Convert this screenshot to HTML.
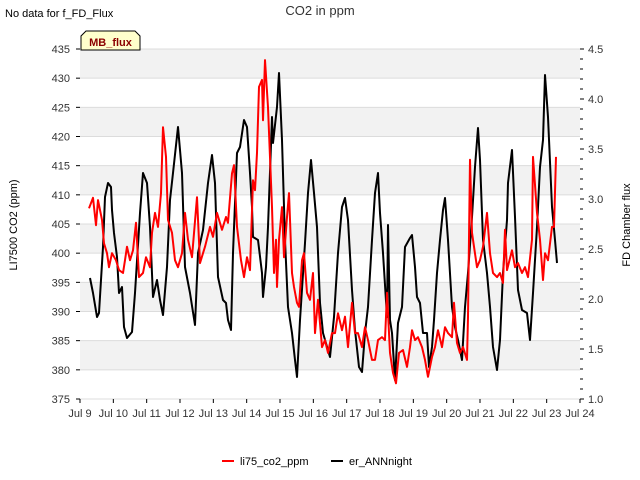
<!DOCTYPE html>
<html><head><meta charset="utf-8"><style>
html,body{margin:0;padding:0;background:#fff;}
svg{display:block;font-family:"Liberation Sans",sans-serif;}
</style></head><body>
<svg id="chart" width="640" height="480" viewBox="0 0 640 480">
<text x="5" y="17" font-size="11" fill="#000">No data for f_FD_Flux</text>
<text x="320" y="15" font-size="13" fill="#333" text-anchor="middle">CO2 in ppm</text>
<g id="plot"></g>
<g>
<path d="M81,50 L81,36 L86,31 L135,31 L140,36 L140,50 Z" fill="#ffffcc" stroke="#000" stroke-width="1"/>
<text x="110.5" y="46" font-size="11" font-weight="bold" fill="#8b0000" text-anchor="middle">MB_flux</text>
</g>
<text transform="translate(17,225) rotate(-90)" font-size="11" text-anchor="middle" fill="#000">LI7500 CO2 (ppm)</text>
<text transform="translate(630,225) rotate(-90)" font-size="11" text-anchor="middle" fill="#000">FD Chamber flux</text>
<g>
<g><line x1="222" y1="461" x2="234" y2="461" stroke="#ff0000" stroke-width="2"/><text x="240" y="465" font-size="11">li75_co2_ppm</text></g>
<g><line x1="331" y1="461" x2="343" y2="461" stroke="#000" stroke-width="2"/><text x="349" y="465" font-size="11">er_ANNnight</text></g>
</g>
</svg>
<script>
const xTickLabels=["Jul 9","Jul 10","Jul 11","Jul 12","Jul 13","Jul 14","Jul 15","Jul 16","Jul 17","Jul 18","Jul 19","Jul 20","Jul 21","Jul 22","Jul 23","Jul 24"];
const leftTicks=[375,380,385,390,395,400,405,410,415,420,425,430,435];
const rightTicks=[1.0,1.5,2.0,2.5,3.0,3.5,4.0,4.5];
const redT=[.27,.39,.48,.54,.66,.72,.81,.87,.96,1.08,1.17,1.29,1.35,1.41,1.50,1.59,1.68,1.77,1.89,1.98,2.10,2.16,2.25,2.34,2.43,2.49,2.58,2.64,2.76,2.85,2.94,3.06,3.15,3.24,3.36,3.51,3.60,3.75,3.90,3.99,4.11,4.26,4.38,4.44,4.56,4.62,4.71,4.83,4.92,5.01,5.10,5.19,5.25,5.31,5.37,5.46,5.49,5.55,5.64,5.76,5.82,5.88,5.91,5.97,6.06,6.12,6.21,6.27,6.36,6.42,6.51,6.57,6.66,6.72,6.81,6.90,6.99,7.05,7.14,7.26,7.35,7.44,7.56,7.65,7.74,7.86,7.95,8.04,8.16,8.25,8.34,8.46,8.55,8.64,8.76,8.85,8.94,9.06,9.15,9.21,9.30,9.39,9.48,9.57,9.69,9.81,9.90,9.96,10.05,10.14,10.26,10.35,10.44,10.56,10.65,10.74,10.86,10.95,11.04,11.16,11.22,11.31,11.40,11.49,11.61,11.64,11.70,11.76,11.82,11.91,12.00,12.09,12.21,12.30,12.39,12.51,12.60,12.69,12.75,12.81,12.96,13.05,13.14,13.26,13.35,13.44,13.56,13.59,13.71,13.80,13.89,13.95,14.04,14.16,14.22,14.28];
const redV=[407.7,409.5,404.8,409.1,405.7,401.7,400.0,397.6,400.0,398.8,397.1,396.6,398.8,401.1,398.8,400.5,405.2,395.9,396.6,399.3,397.6,403.5,406.9,404.5,410.3,421.6,416.5,405.7,403.5,398.8,397.6,400.0,406.9,402.3,399.3,409.6,398.3,401.1,404.5,402.8,406.9,404.0,406.2,405.2,413.7,415.1,404.5,398.8,395.9,399.3,397.1,412.5,410.8,417.2,428.5,429.7,422.8,433.1,425.0,407.9,396.6,402.3,394.2,402.3,407.9,399.3,406.2,410.3,396.6,394.2,391.5,390.8,398.8,400.0,393.2,392.0,396.6,386.3,392.0,383.9,385.1,382.9,386.3,386.3,389.7,386.8,389.1,383.9,391.5,386.3,386.3,383.9,387.3,385.1,381.7,381.7,385.1,385.6,385.1,393.2,382.9,379.5,377.7,382.9,383.4,380.5,383.9,386.8,385.1,385.6,383.9,381.7,378.8,382.2,383.9,386.8,383.9,387.3,386.3,385.6,391.5,384.6,382.9,383.9,381.7,389.1,416.0,403.5,401.1,397.6,398.8,401.1,406.9,400.0,396.6,395.9,396.6,394.9,404.0,397.1,400.5,397.6,398.3,396.6,397.6,395.9,402.3,416.5,406.9,402.3,395.4,400.0,398.8,404.5,404.5,416.5];
const blackT=[.30,.39,.51,.57,.69,.75,.84,.93,.96,1.02,1.11,1.17,1.26,1.32,1.41,1.56,1.65,1.80,1.89,2.01,2.10,2.19,2.31,2.40,2.49,2.61,2.70,2.79,2.94,3.06,3.15,3.30,3.45,3.54,3.69,3.84,3.96,4.05,4.14,4.29,4.38,4.44,4.53,4.59,4.71,4.80,4.92,5.01,5.10,5.16,5.19,5.34,5.46,5.49,5.58,5.64,5.76,5.79,5.91,5.97,6.06,6.15,6.24,6.36,6.45,6.51,6.60,6.75,6.84,6.93,7.02,7.11,7.20,7.29,7.50,7.62,7.74,7.86,7.95,8.04,8.16,8.25,8.37,8.46,8.55,8.64,8.76,8.85,8.94,9.00,9.09,9.21,9.24,9.30,9.36,9.45,9.54,9.66,9.75,9.90,9.96,10.05,10.11,10.20,10.29,10.41,10.47,10.56,10.62,10.71,10.80,10.89,10.95,11.04,11.16,11.25,11.34,11.46,11.55,11.64,11.76,11.85,11.94,12.00,12.09,12.21,12.30,12.39,12.51,12.60,12.69,12.81,12.84,12.96,13.05,13.14,13.26,13.41,13.50,13.59,13.71,13.80,13.89,13.95,14.04,14.16,14.25,14.31];
const blackV=[2.21,2.06,1.82,1.86,2.52,3.02,3.16,3.12,2.89,2.66,2.42,2.06,2.12,1.72,1.61,1.67,2.06,2.86,3.26,3.16,2.72,2.02,2.19,1.99,1.84,2.32,2.99,3.26,3.72,3.26,2.32,2.06,1.74,2.46,2.69,3.16,3.44,3.16,2.22,1.99,1.96,1.79,1.69,2.46,3.46,3.52,3.79,3.72,3.26,2.92,2.62,2.59,2.26,2.02,2.32,2.72,3.82,3.56,3.92,4.26,3.59,2.59,1.92,1.66,1.39,1.22,1.79,2.56,3.06,3.39,3.06,2.72,1.96,1.66,1.42,1.82,2.46,2.92,3.01,2.79,2.09,1.69,1.32,1.27,1.66,1.92,2.59,3.06,3.26,2.86,2.46,1.82,2.74,1.79,1.66,1.19,1.76,1.92,2.52,2.61,2.64,2.32,2.02,1.96,1.66,1.66,1.32,1.52,1.79,2.26,2.59,2.89,3.01,2.59,1.92,1.72,1.59,1.39,1.92,2.26,2.82,3.32,3.71,3.39,2.59,2.26,1.92,1.52,1.29,1.59,2.26,2.79,3.16,3.49,2.82,2.09,1.89,1.86,1.59,2.06,2.72,3.32,3.59,4.24,3.82,2.92,2.59,2.36];

const NS="http://www.w3.org/2000/svg";
const L=80,R=580,T=49,B=399;
const xs=d=>L+(R-L)*d/15;
const yl=v=>B-(B-T)*(v-375)/60;
const yr=v=>B-(B-T)*(v-1)/3.5;
const plot=document.getElementById('plot');
function mk(tag,attrs,parent){const e=document.createElementNS(NS,tag);for(const k in attrs)e.setAttribute(k,attrs[k]);(parent||plot).appendChild(e);return e;}
// bands and grid
for(let i=0;i<leftTicks.length-1;i++){
  if(i%2===1){const b=mk('rect',{x:L,y:yl(leftTicks[i+1]),width:R-L,height:yl(leftTicks[i])-yl(leftTicks[i+1]),fill:'#f2f2f2'});
  
  }
}
leftTicks.forEach(v=>{
  const g=mk('line',{x1:L,x2:R,y1:yl(v),y2:yl(v),stroke:'#dcdcdc','stroke-width':1});
  
  
  const tk=mk('line',{x1:L-4,x2:L,y1:yl(v),y2:yl(v),stroke:'#000'});
  const t=mk('text',{x:L-10,y:yl(v)+4,'font-size':11,'text-anchor':'end',fill:'#333'});
  t.textContent=v;
  
  
});
for(let k=10;k<=45;k++){const v=k/10;const major=k%5===0;
  mk('line',{x1:R,x2:R+(major?4:3),y1:yr(v),y2:yr(v),stroke:'#000'});
  if(major){const t=mk('text',{x:R+8,y:yr(v)+4,'font-size':11,fill:'#333'});
  t.textContent=v.toFixed(1);
  
  }
}
xTickLabels.forEach((lab,i)=>{
  mk('line',{x1:xs(i),x2:xs(i),y1:B,y2:B+4,stroke:'#000'});
  const t=mk('text',{x:xs(i),y:B+18,'font-size':11,'text-anchor':'middle',fill:'#333'});
  t.textContent=lab;
  
  
});
const bl=mk('polyline',{points:blackT.map((t,i)=>xs(t).toFixed(1)+','+yr(blackV[i]).toFixed(1)).join(' '),fill:'none',stroke:'#000','stroke-width':2,'stroke-linejoin':'round'});


const rl=mk('polyline',{points:redT.map((t,i)=>xs(t).toFixed(1)+','+yl(redV[i]).toFixed(1)).join(' '),fill:'none',stroke:'#ff0000','stroke-width':2,'stroke-linejoin':'round'});


</script>
</body></html>
